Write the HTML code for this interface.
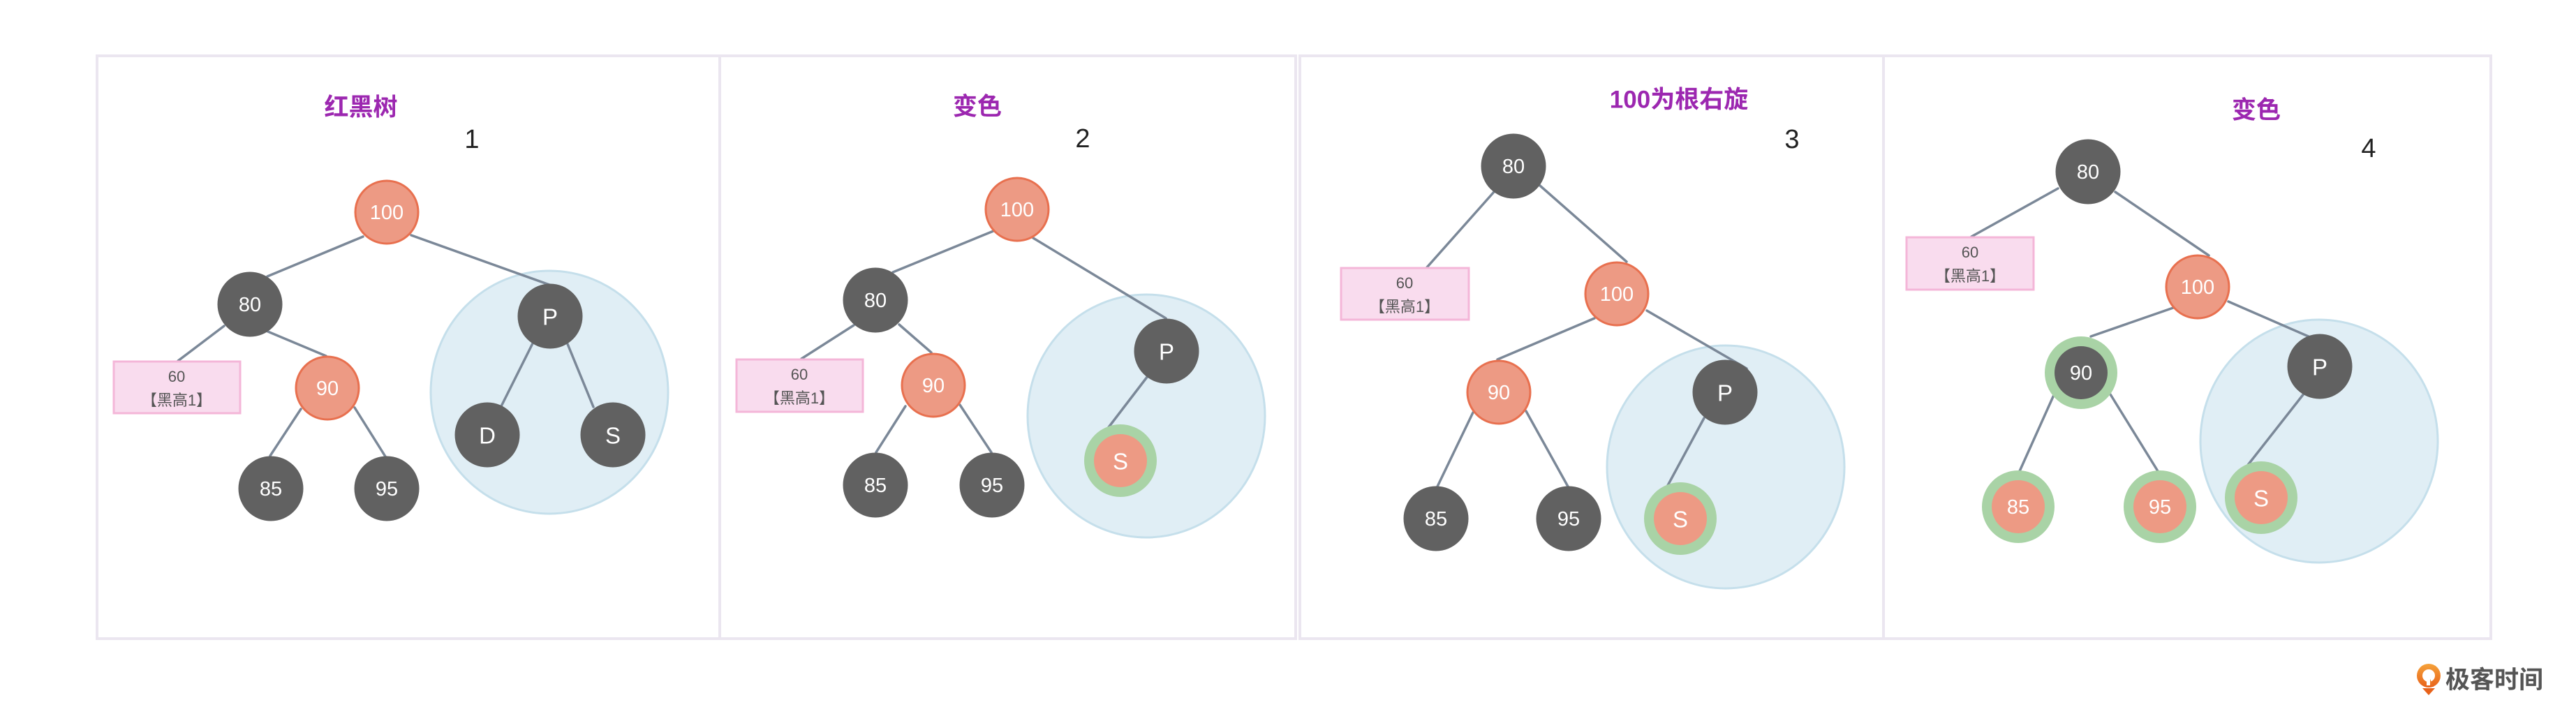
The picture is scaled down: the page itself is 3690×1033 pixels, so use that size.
<!DOCTYPE html>
<html>
<head>
<meta charset="utf-8">
<style>
  html,body{margin:0;padding:0;background:#fff;}
  body{width:3690px;height:1033px;overflow:hidden;}
  svg{display:block;}
  .num{font-family:"Liberation Sans",sans-serif;font-size:29px;fill:#fff;}
  .let{font-family:"Liberation Sans",sans-serif;font-size:33px;fill:#fff;}
  .title{font-family:"Liberation Sans","Noto Sans CJK SC",sans-serif;font-size:35px;fill:#9c27b0;font-weight:bold;}
  .step{font-family:"Liberation Sans",sans-serif;font-size:38px;fill:#222;}
  .box{font-family:"Liberation Sans","Noto Sans CJK SC",sans-serif;font-size:22px;fill:#555;}
  .logo{font-family:"Liberation Sans","Noto Sans CJK SC",sans-serif;font-size:35px;fill:#555;font-weight:bold;}
</style>
</head>
<body>
<svg width="3690" height="1033" viewBox="0 0 3690 1033" xmlns="http://www.w3.org/2000/svg">
  <defs>
    <linearGradient id="og" x1="0" y1="0" x2="0" y2="1">
      <stop offset="0" stop-color="#f5a23a"/>
      <stop offset="1" stop-color="#e8621a"/>
    </linearGradient>
  </defs>
  <rect x="0" y="0" width="3690" height="1033" fill="#fff"/>

  <!-- panel frames -->
  <g fill="none" stroke="#ebe6f0" stroke-width="4">
    <rect x="139" y="80" width="1717" height="835"/>
    <line x1="1031" y1="80" x2="1031" y2="915"/>
    <rect x="1862" y="80" width="1706" height="835"/>
    <line x1="2698" y1="80" x2="2698" y2="915"/>
  </g>

  <!-- blobs -->
  <g fill="#e0eef5" stroke="#c5dfeb" stroke-width="3">
    <ellipse cx="787" cy="562" rx="170" ry="174"/>
    <ellipse cx="1642" cy="596" rx="170" ry="174"/>
    <ellipse cx="2472" cy="669" rx="170" ry="174"/>
    <ellipse cx="3322" cy="632" rx="170" ry="174"/>
  </g>

  <!-- edges -->
  <g stroke="#7b8898" stroke-width="3.5" stroke-linecap="round">
    <!-- P1 -->
    <line x1="520" y1="339" x2="383" y2="396"/>
    <line x1="589" y1="337" x2="787" y2="408"/>
    <line x1="321" y1="467" x2="255" y2="517"/>
    <line x1="379" y1="473" x2="467" y2="510"/>
    <line x1="431" y1="586" x2="387" y2="653"/>
    <line x1="508" y1="584" x2="552" y2="654"/>
    <line x1="765" y1="488" x2="718" y2="582"/>
    <line x1="811" y1="488" x2="850" y2="583"/>
    <!-- P2 -->
    <line x1="1423" y1="331" x2="1279" y2="390"/>
    <line x1="1480" y1="341" x2="1670" y2="456"/>
    <line x1="1223" y1="466" x2="1148" y2="514"/>
    <line x1="1288" y1="465" x2="1334" y2="505"/>
    <line x1="1297" y1="582" x2="1255" y2="648"/>
    <line x1="1375" y1="580" x2="1420" y2="648"/>
    <line x1="1644" y1="539" x2="1582" y2="620"/>
    <!-- P3 -->
    <line x1="2140" y1="275" x2="2044" y2="383"/>
    <line x1="2206" y1="266" x2="2330" y2="375"/>
    <line x1="2284" y1="456" x2="2145" y2="515"/>
    <line x1="2359" y1="445" x2="2502" y2="528"/>
    <line x1="2110" y1="591" x2="2059" y2="697"/>
    <line x1="2186" y1="589" x2="2246" y2="697"/>
    <line x1="2441" y1="599" x2="2386" y2="701"/>
    <!-- P4 -->
    <line x1="2948" y1="270" x2="2824" y2="339"/>
    <line x1="3030" y1="275" x2="3164" y2="366"/>
    <line x1="3113" y1="441" x2="2995" y2="482"/>
    <line x1="3192" y1="432" x2="3309" y2="483"/>
    <line x1="2942" y1="566" x2="2893" y2="675"/>
    <line x1="3023" y1="565" x2="3091" y2="675"/>
    <line x1="3301" y1="563" x2="3217" y2="670"/>
  </g>

  <!-- black-height boxes -->
  <g fill="#f9dcee" stroke="#f4b6d8" stroke-width="3">
    <rect x="163" y="518" width="181" height="74"/>
    <rect x="1055" y="515" width="181" height="75"/>
    <rect x="1921" y="384" width="183" height="74"/>
    <rect x="2731" y="340" width="182" height="75"/>
  </g>
  <g class="box" text-anchor="middle">
    <text x="253" y="547">60</text><text x="253" y="581">【黑高1】</text>
    <text x="1145" y="544">60</text><text x="1145" y="578">【黑高1】</text>
    <text x="2012" y="413">60</text><text x="2012" y="447">【黑高1】</text>
    <text x="2822" y="369">60</text><text x="2822" y="403">【黑高1】</text>
  </g>

  <!-- green rings -->
  <g fill="#a9d3a6">
    <circle cx="1605" cy="660" r="52"/>
    <circle cx="2407" cy="743" r="52"/>
    <circle cx="2981" cy="534" r="52"/>
    <circle cx="2891" cy="726" r="52"/>
    <circle cx="3094" cy="726" r="52"/>
    <circle cx="3239" cy="713" r="52"/>
  </g>
  <!-- inner ring salmon -->
  <g fill="#ed9a84">
    <circle cx="1605" cy="660" r="38"/>
    <circle cx="2407" cy="743" r="38"/>
    <circle cx="2891" cy="726" r="38"/>
    <circle cx="3094" cy="726" r="38"/>
    <circle cx="3239" cy="713" r="38"/>
  </g>
  <circle cx="2981" cy="534" r="38" fill="#616161"/>

  <!-- red nodes -->
  <g fill="#ed9a84" stroke="#e8704f" stroke-width="3">
    <circle cx="554" cy="304" r="45"/>
    <circle cx="469" cy="556" r="45"/>
    <circle cx="1457" cy="300" r="45"/>
    <circle cx="1337" cy="552" r="45"/>
    <circle cx="2316" cy="421" r="45"/>
    <circle cx="2147" cy="562" r="45"/>
    <circle cx="3148" cy="411" r="45"/>
  </g>

  <!-- dark nodes -->
  <g fill="#616161">
    <circle cx="358" cy="436" r="46.5"/>
    <circle cx="388" cy="700" r="46.5"/>
    <circle cx="554" cy="700" r="46.5"/>
    <circle cx="788" cy="453" r="46.5"/>
    <circle cx="698" cy="623" r="46.5"/>
    <circle cx="878" cy="623" r="46.5"/>

    <circle cx="1254" cy="430" r="46.5"/>
    <circle cx="1254" cy="695" r="46.5"/>
    <circle cx="1421" cy="695" r="46.5"/>
    <circle cx="1671" cy="503" r="46.5"/>

    <circle cx="2168" cy="238" r="46.5"/>
    <circle cx="2471" cy="562" r="46.5"/>
    <circle cx="2057" cy="743" r="46.5"/>
    <circle cx="2247" cy="743" r="46.5"/>

    <circle cx="2991" cy="246" r="46.5"/>
    <circle cx="3323" cy="525" r="46.5"/>
  </g>

  <!-- node labels -->
  <g class="num" text-anchor="middle" dominant-baseline="central">
    <text x="554" y="305">100</text>
    <text x="358" y="437">80</text>
    <text x="469" y="557">90</text>
    <text x="388" y="701">85</text>
    <text x="554" y="701">95</text>

    <text x="1457" y="301">100</text>
    <text x="1254" y="431">80</text>
    <text x="1337" y="553">90</text>
    <text x="1254" y="696">85</text>
    <text x="1421" y="696">95</text>

    <text x="2168" y="239">80</text>
    <text x="2316" y="422">100</text>
    <text x="2147" y="563">90</text>
    <text x="2057" y="744">85</text>
    <text x="2247" y="744">95</text>

    <text x="2991" y="247">80</text>
    <text x="3148" y="412">100</text>
    <text x="2981" y="535">90</text>
    <text x="2891" y="727">85</text>
    <text x="3094" y="727">95</text>
  </g>
  <g class="let" text-anchor="middle" dominant-baseline="central">
    <text x="788" y="454">P</text>
    <text x="698" y="624">D</text>
    <text x="878" y="624">S</text>
    <text x="1671" y="504">P</text>
    <text x="1605" y="661">S</text>
    <text x="2471" y="563">P</text>
    <text x="2407" y="744">S</text>
    <text x="3323" y="526">P</text>
    <text x="3239" y="714">S</text>
  </g>

  <!-- titles -->
  <g class="title" text-anchor="middle" dominant-baseline="central">
    <text x="517" y="154">红黑树</text>
    <text x="1400" y="153">变色</text>
    <text x="2405" y="143">100为根右旋</text>
    <text x="3232" y="158">变色</text>
  </g>
  <g class="step" text-anchor="middle" dominant-baseline="central">
    <text x="676" y="200">1</text>
    <text x="1551" y="199">2</text>
    <text x="2567" y="200">3</text>
    <text x="3393" y="213">4</text>
  </g>

  <!-- logo -->
  <g>
    <path d="M3470 986 L3488 986 L3479 996 Z" fill="#e8621a"/>
    <circle cx="3479" cy="968" r="17" fill="url(#og)"/>
    <circle cx="3479" cy="968" r="9" fill="#fff"/>
    <path d="M3479 968 L3486 984 L3476 984 Z" fill="url(#og)"/>
    <rect x="3476" y="962" width="5" height="20" fill="#fff"/>
  </g>
  <text class="logo" x="3503" y="986">极客时间</text>
</svg>
</body>
</html>
